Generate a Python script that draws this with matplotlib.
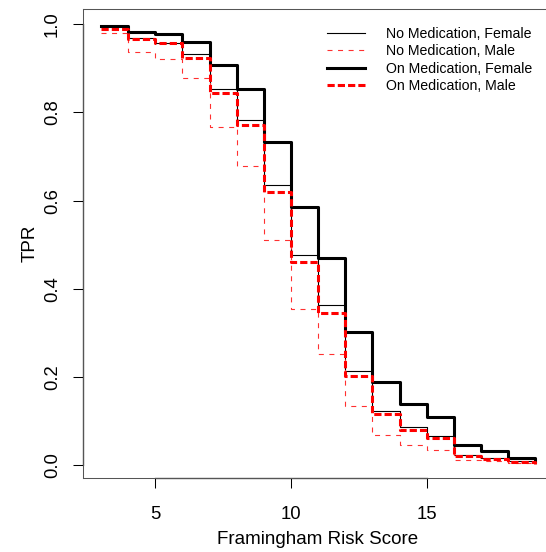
import matplotlib
matplotlib.use('Agg')
import matplotlib.pyplot as plt
import numpy as np

plt.rcParams['font.family'] = ['Liberation Sans', 'DejaVu Sans']
plt.rcParams['lines.scale_dashes'] = False

# Framingham risk score bins
score = [3, 4, 5, 6, 7, 8, 9, 10, 11, 12, 13, 14, 15, 16, 17, 18, 19]

tpr_nomed_female = [0.995, 0.968, 0.958, 0.932, 0.853, 0.783, 0.635, 0.476, 0.362,
                    0.214, 0.123, 0.086, 0.066, 0.023, 0.017, 0.008, 0.004]
tpr_nomed_male = [0.980, 0.937, 0.921, 0.877, 0.768, 0.679, 0.511, 0.353, 0.252,
                  0.134, 0.068, 0.045, 0.034, 0.011, 0.008, 0.004, 0.002]
tpr_onmed_female = [0.997, 0.983, 0.978, 0.960, 0.908, 0.854, 0.732, 0.585, 0.470,
                    0.302, 0.188, 0.138, 0.110, 0.045, 0.031, 0.016, 0.008]
tpr_onmed_male = [0.989, 0.966, 0.957, 0.924, 0.843, 0.771, 0.619, 0.460, 0.346,
                  0.202, 0.115, 0.079, 0.062, 0.020, 0.013, 0.006, 0.003]

labels = ['No Medication, Female', 'No Medication, Male',
          'On Medication, Female', 'On Medication, Male']

W, H = 546, 552
fig = plt.figure(figsize=(W / 100, H / 100), dpi=100)
ax = fig.add_axes([83.3 / W, (H - 478) / H, (552.8 - 83.3) / W, (478 - 9.3) / H])

ax.step(score, tpr_nomed_female, where='post', color='black', lw=0.8, label=labels[0])
ax.step(score, tpr_nomed_male, where='post', color='#ff3030', lw=0.8,
        linestyle=(0, (3.6, 4.0)), label=labels[1])
ax.step(score, tpr_onmed_female, where='post', color='black', lw=2.2, label=labels[2])
ax.step(score, tpr_onmed_male, where='post', color='#ff0000', lw=2.2,
        linestyle=(0, (5.2, 2.2)), label=labels[3])

ax.set_xlim(2.346, 19.65)
ax.set_ylim(-0.0295, 1.034)

ax.set_xticks([5, 10, 15])
ax.set_yticks([0.0, 0.2, 0.4, 0.6, 0.8, 1.0])
ax.set_yticklabels(['0.0', '0.2', '0.4', '0.6', '0.8', '1.0'], rotation=90, va='center')

for s in ax.spines.values():
    s.set_color('#555555')
    s.set_linewidth(0.75)

# axis lines spanning the tick range, like R's axis()
ax.plot([5, 15], [-0.0295, -0.0295], color='black', lw=0.9, clip_on=False)
ax.plot([2.346, 2.346], [0.0, 1.0], color='black', lw=0.9, clip_on=False)

ax.tick_params(axis='x', direction='out', length=7.2, width=0.75, labelsize=13.3, pad=13)
ax.tick_params(axis='y', direction='out', length=7.2, width=0.75, labelsize=13.3, pad=9)

ax.set_xlabel('Framingham Risk Score', fontsize=13.5, labelpad=5.5)
ax.set_ylabel('TPR', fontsize=13.5, labelpad=4)

ax.legend(loc='upper left', bbox_to_anchor=(327 / W, (H - 27) / H),
          bbox_transform=fig.transFigure, frameon=False, fontsize=10.2,
          handlelength=2.68, handletextpad=1.5, labelspacing=0.23,
          borderpad=0, borderaxespad=0)

fig.savefig('out.png', dpi=100)
